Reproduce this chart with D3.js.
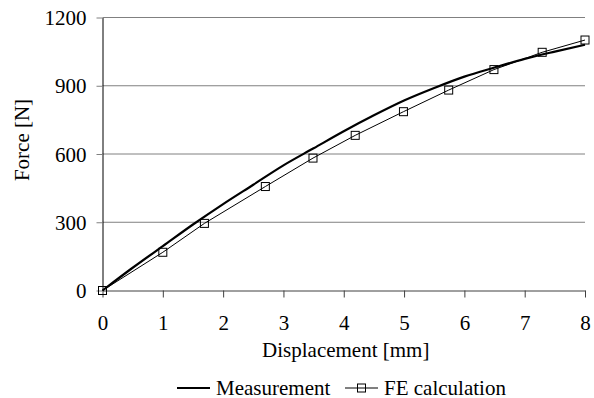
<!DOCTYPE html>
<html>
<head>
<meta charset="utf-8">
<script src="https://cdn.jsdelivr.net/npm/d3@7"></script>
<style>
  html, body { margin: 0; padding: 0; background: #fff; }
</style>
</head>
<body>
<svg id="chart" width="594" height="398"></svg>
<script>
// Force–displacement curves: measured vs. finite-element result
const measureX = [0, 0.5, 1, 1.5, 2, 2.5, 3, 3.5, 4, 4.5, 5, 5.5, 6, 6.5, 7, 7.5, 8];
const measureY = [0, 100, 195, 290, 380, 465, 550, 625, 700, 770, 835, 890, 940, 980, 1018, 1050, 1080];

const feX = [0, 1, 1.69, 2.7, 3.49, 4.19, 4.99, 5.74, 6.49, 7.29, 8];
const feY = [0, 168, 295, 457, 582, 682, 786, 881, 971, 1047, 1101];

const xTicks = [0, 1, 2, 3, 4, 5, 6, 7, 8];
const yTicks = [0, 300, 600, 900, 1200];

const seriesNames = ["Measurement", "FE calculation"];
const xTitle = "Displacement [mm]";
const yTitle = "Force [N]";

const FONT = "Liberation Serif";
const FS = 21;

const svg = d3.select("#chart");
const plotLeft = 102.5, plotRight = 585, plotTop = 17.5, plotBottom = 290.5;

const x = d3.scaleLinear().domain([0, 8]).range([plotLeft, plotRight]);
const y = d3.scaleLinear().domain([0, 1200]).range([plotBottom, plotTop]);

// horizontal gridlines
svg.append("g")
  .selectAll("line")
  .data(yTicks.filter(d => d > 0))
  .join("line")
  .attr("x1", plotLeft).attr("x2", plotRight)
  .attr("y1", d => y(d)).attr("y2", d => y(d))
  .attr("stroke", "#808080").attr("stroke-width", 1);

// y axis
const yAxis = svg.append("g")
  .attr("transform", `translate(${plotLeft},0)`)
  .call(d3.axisLeft(y).tickValues(yTicks).tickFormat(d3.format("d"))
    .tickSize(6).tickPadding(10).tickSizeOuter(0));
yAxis.attr("font-family", FONT).attr("font-size", FS);
yAxis.select(".domain").attr("stroke", "#000");
yAxis.selectAll(".tick line").attr("stroke", "#808080");
yAxis.selectAll(".tick text").attr("fill", "#000").attr("dy", "0.34em");

// x axis
const xAxis = svg.append("g")
  .attr("transform", `translate(0,${plotBottom})`)
  .call(d3.axisBottom(x).tickValues(xTicks).tickFormat(d3.format("d"))
    .tickSize(7).tickPadding(18).tickSizeOuter(0));
xAxis.attr("font-family", FONT).attr("font-size", FS);
xAxis.select(".domain").attr("stroke", "#404040");
xAxis.selectAll(".tick line").attr("stroke", "#404040");
xAxis.selectAll(".tick text").attr("fill", "#000").attr("dy", "0.71em");

// axis titles
svg.append("text")
  .attr("x", (plotLeft + plotRight) / 2 + 2).attr("y", 357)
  .attr("text-anchor", "middle")
  .attr("font-family", FONT).attr("font-size", FS)
  .text(xTitle);
svg.append("text")
  .attr("transform", `translate(29,140) rotate(-90)`)
  .attr("text-anchor", "middle")
  .attr("font-family", FONT).attr("font-size", FS)
  .text(yTitle);

const line = d3.line().x(d => x(d[0])).y(d => y(d[1]));

// FE calculation: thin line with open square markers
const feData = feX.map((v, i) => [v, feY[i]]);
svg.append("path")
  .datum(feData)
  .attr("d", line)
  .attr("fill", "none").attr("stroke", "#000").attr("stroke-width", 1);
const sq = 8;
svg.append("g")
  .selectAll("rect")
  .data(feData)
  .join("rect")
  .attr("x", d => x(d[0]) - sq / 2).attr("y", d => y(d[1]) - sq / 2)
  .attr("width", sq).attr("height", sq)
  .attr("fill", "none").attr("stroke", "#000").attr("stroke-width", 1);

// Measurement: thick line
const mData = measureX.map((v, i) => [v, measureY[i]]);
svg.append("path")
  .datum(mData)
  .attr("d", d3.line().x(d => x(d[0])).y(d => y(d[1])).curve(d3.curveMonotoneX))
  .attr("fill", "none").attr("stroke", "#000").attr("stroke-width", 2.2);

// legend
const ly = 388;
const lg = svg.append("g").attr("font-family", FONT).attr("font-size", FS);
lg.append("line").attr("x1", 177).attr("x2", 210).attr("y1", ly).attr("y2", ly)
  .attr("stroke", "#000").attr("stroke-width", 2.2);
lg.append("text").attr("x", 216).attr("y", ly + 7).text(seriesNames[0]);
lg.append("line").attr("x1", 345).attr("x2", 378).attr("y1", ly).attr("y2", ly)
  .attr("stroke", "#000").attr("stroke-width", 1);
lg.append("rect").attr("x", 361.5 - sq / 2).attr("y", ly - sq / 2).attr("width", sq).attr("height", sq)
  .attr("fill", "none").attr("stroke", "#000").attr("stroke-width", 1);
lg.append("text").attr("x", 384).attr("y", ly + 7).text(seriesNames[1]);
</script>
</body>
</html>
